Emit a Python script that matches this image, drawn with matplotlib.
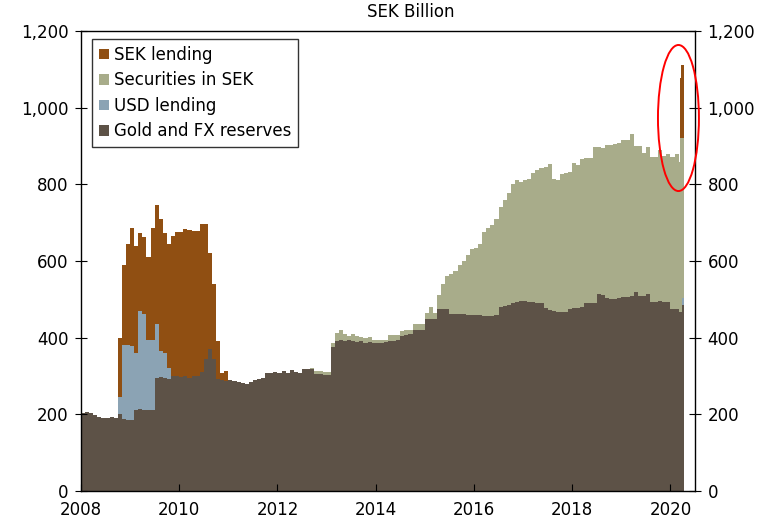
import numpy as np
import matplotlib
matplotlib.use("Agg")
import matplotlib.pyplot as plt
from matplotlib.patches import Patch, Ellipse
from matplotlib.ticker import FuncFormatter

# ---------------- data (SEK billion), monthly from Jan 2008 ----------------
gold_monthly = [
    203, 205, 203, 198, 192, 190, 190, 192, 190, 200, 187, 186,   # 2008
    186, 212, 215, 212, 210, 210, 295, 297, 295, 293, 300, 300,   # 2009
    298, 300, 296, 300, 300, 310, 345, 370, 345, 292, 290, 288,   # 2010
    290, 288, 285, 282, 280, 285, 290, 292, 295, 308, 308, 310,   # 2011
    308, 312, 308, 315, 310, 308, 318, 318, 318, 305, 305, 303,   # 2012
    303, 376, 392, 395, 390, 395, 390, 388, 390, 387, 388, 386,   # 2013
    386, 385, 388, 391, 391, 393, 405, 407, 410, 420, 420, 420,   # 2014
    449, 449, 449, 474, 474, 474, 462, 462, 462, 462, 460, 460,   # 2015
    460, 460, 457, 457, 457, 458, 480, 482, 485, 490, 493, 495,   # 2016
    495, 493, 492, 490, 490, 478, 472, 470, 468, 467, 467, 475,   # 2017
    477, 477, 480, 490, 490, 490, 514, 510, 504, 500, 502, 504,   # 2018
    506, 506, 508, 520, 509, 509, 515, 493, 493, 495, 493, 493,   # 2019
    475, 475, 467,                                                # 2020
]
usd_monthly = (
    [0] * 9 + [45, 193, 194] +                                    # 2008
    [192, 148, 255, 250, 184, 184, 141, 68, 65, 28, 0, 0] +       # 2009
    [0] * (12 * 10 + 3)                                           # 2010-2020
)
securities_monthly = (
    [0] * 12 * 4 +                                                # 2008-2011
    [0] * 8 + [4, 8, 8, 8] +                                      # 2012
    [8, 10, 20, 25, 20, 10, 20, 17, 12, 13, 15, 8] +              # 2013
    [8, 8, 6, 16, 16, 14, 13, 13, 10, 15, 15, 15] +               # 2014
    [15, 30, 15, 36, 66, 86, 103, 113, 128, 138, 155, 170] +      # 2015
    [175, 185, 218, 228, 238, 252, 260, 278, 292, 310, 317, 311] +  # 2016
    [315, 322, 338, 348, 352, 367, 380, 345, 344, 361, 363, 357] +  # 2017
    [378, 373, 385, 378, 378, 407, 383, 385, 398, 403, 403, 403] +  # 2018
    [409, 409, 422, 380, 391, 373, 382, 378, 378, 395, 382, 387] +  # 2019
    [397, 403, 391]                                               # 2020
)
sek_monthly = (
    [0] * 9 + [155, 210, 265] +                                   # 2008
    [308, 280, 203, 201, 216, 292, 309, 345, 313, 324, 365, 376] +  # 2009
    [378, 383, 384, 379, 378, 387, 352, 251, 195, 98, 18, 26] +   # 2010
    [0] * (12 * 9 + 3)                                            # 2011-2020
)

# weekly observations, spring 2020
tail_dates = [2020.19, 2020.215, 2020.245]
gold_tail = [467, 467, 485]
usd_tail = [0, 0, 18]
securities_tail = [453, 453, 417]
sek_tail = [157, 191, 191]
end_date = 2020.285

series_labels = ["Gold and FX reserves", "USD lending", "Securities in SEK", "SEK lending"]
colors = ["#5D5247", "#8BA3B4", "#A8AC8A", "#904F12"]
y_ticks = [0, 200, 400, 600, 800, 1000, 1200]
x_ticks = [2008, 2010, 2012, 2014, 2016, 2018, 2020]

# ---------------- assemble ----------------
n = len(gold_monthly)
x = np.concatenate([2008 + np.arange(n) / 12.0, tail_dates, [end_date]])

def full(monthly, tail):
    v = list(monthly) + list(tail)
    return np.array(v + [v[-1]], dtype=float)

layers = [full(gold_monthly, gold_tail), full(usd_monthly, usd_tail),
          full(securities_monthly, securities_tail), full(sek_monthly, sek_tail)]

FS = 12

fig = plt.figure(figsize=(7.76, 5.27), dpi=100)
ax = fig.add_axes([81 / 776, 1 - 491 / 527, (695 - 81) / 776, (491 - 31) / 527])

base = np.zeros_like(x)
for vals, c in zip(layers, colors):
    top = base + vals
    ax.fill_between(x, base, top, step="post", color=c, linewidth=0)
    base = top

ax.set_xlim(2008, 2020.5)
ax.set_ylim(0, 1200)
ax.set_xticks(x_ticks)
ax.set_xticklabels([str(t) for t in x_ticks])
ax.set_yticks(y_ticks)
ax.yaxis.set_major_formatter(FuncFormatter(lambda v, p: f"{int(v):,}"))
ax.tick_params(axis="y", direction="inout", length=8, labelsize=FS,
               right=True, labelright=True, pad=5)
ax.tick_params(axis="x", direction="in", length=5, labelsize=FS, pad=7)
for s in ax.spines.values():
    s.set_linewidth(1.0)
    s.set_color("black")

# highlight ellipse
ell = Ellipse((2020.163, 973), width=0.834, height=381, fill=False,
              edgecolor="red", linewidth=1.4, clip_on=False, zorder=5)
ax.add_patch(ell)

handles = [Patch(facecolor=c, edgecolor="none", label=l)
           for l, c in zip(series_labels[::-1], colors[::-1])]
leg = ax.legend(handles=handles, loc="upper left", bbox_to_anchor=(0.018, 0.982),
                fontsize=FS, frameon=True, fancybox=False, edgecolor="black",
                handlelength=0.6, handleheight=0.6, handletextpad=0.3,
                labelspacing=0.45, borderpad=0.4, borderaxespad=0)
leg.get_frame().set_linewidth(1.0)

fig.text(411 / 776, 1 - 12 / 527, "SEK Billion", ha="center", va="center", fontsize=FS)

fig.savefig("out.png", dpi=100)
